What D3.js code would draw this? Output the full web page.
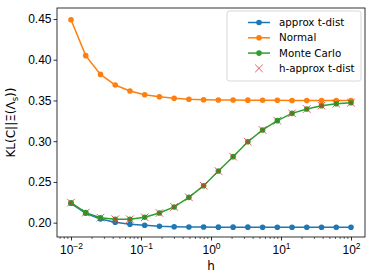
<!DOCTYPE html>
<html>
<head>
<meta charset="utf-8">
<script src="https://cdn.jsdelivr.net/npm/d3@7"></script>
<style>
  body { margin: 0; background: #fff; }
  svg { font-family: "DejaVu Sans", sans-serif; }
</style>
</head>
<body>
<div id="chart"></div>
<script>
// h values (20 log-spaced points from 1e-2 to 1e2)
const hValues = [0.01, 0.016238, 0.026367, 0.042813, 0.069519, 0.11288, 0.18330, 0.29764, 0.48329, 0.78476,
                 1.27427, 2.0691, 3.3598, 5.4556, 8.8587, 14.384, 23.357, 37.927, 61.585, 100];

const approxT = [0.2238, 0.2115, 0.2045, 0.2005, 0.1980, 0.1968, 0.1956, 0.1950, 0.1947, 0.1946,
                 0.1945, 0.1945, 0.1945, 0.1944, 0.1944, 0.1944, 0.1944, 0.1944, 0.1944, 0.1944];
const normal = [0.4490, 0.4050, 0.3820, 0.3690, 0.3616, 0.3570, 0.3546, 0.3527, 0.3514, 0.3509,
                0.3506, 0.3505, 0.3504, 0.3503, 0.3502, 0.3500, 0.3500, 0.3500, 0.3500, 0.3500];
const monteCarlo = [0.2245, 0.2123, 0.2061, 0.2042, 0.2042, 0.2066, 0.2119, 0.2193, 0.2311, 0.2454,
                    0.2634, 0.2810, 0.2994, 0.3138, 0.3252, 0.3342, 0.3395, 0.3436, 0.3460, 0.3472];
const hApproxT = [0.2245, 0.2123, 0.2061, 0.2042, 0.2042, 0.2066, 0.2119, 0.2193, 0.2311, 0.2454,
                  0.2634, 0.2810, 0.2994, 0.3138, 0.3252, 0.3342, 0.3395, 0.3436, 0.3460, 0.3472];

const yTicks = [0.20, 0.25, 0.30, 0.35, 0.40, 0.45];
const xTickExps = [-2, -1, 0, 1, 2];

const margin = { top: 8, right: 9, bottom: 43, left: 57 },
    width = 374 - margin.left - margin.right,
    height = 280 - margin.top - margin.bottom;

const svg = d3.select("#chart")
    .append("svg")
    .attr("width", 374)
    .attr("height", 280)
    .append("g")
    .attr("transform", `translate(${margin.left},${margin.top})`);

const x = d3.scaleLog()
    .domain([Math.pow(10, -2.2), Math.pow(10, 2.2)])
    .range([0, width]);
const y = d3.scaleLinear()
    .domain([0.1824, 0.4635])
    .range([height, 0]);

// minor ticks on log x axis
const minor = [];
for (let e = -3; e <= 2; e++) {
    for (let m = 2; m <= 9; m++) {
        const v = m * Math.pow(10, e);
        if (v > x.domain()[0] && v < x.domain()[1]) minor.push(v);
    }
}
svg.append("g")
    .attr("transform", `translate(0,${height})`)
    .selectAll("line")
    .data(minor)
    .join("line")
    .attr("x1", d => x(d)).attr("x2", d => x(d))
    .attr("y1", 0).attr("y2", 2)
    .attr("stroke", "#000").attr("stroke-width", 0.6);

// X axis
const xAxis = svg.append("g")
    .attr("transform", `translate(0,${height})`)
    .call(d3.axisBottom(x).tickValues(xTickExps.map(e => Math.pow(10, e))).tickSize(3.5).tickPadding(3).tickFormat(""));
xAxis.select(".domain").remove();
xAxis.selectAll(".tick line").attr("stroke-width", 0.8);
xAxis.selectAll(".tick").each(function (d, i) {
    const t = d3.select(this).append("text")
        .attr("fill", "#000")
        .attr("y", 17)
        .attr("text-anchor", "middle")
        .style("font-size", "12px");
    t.append("tspan").text("10");
    t.append("tspan").attr("dy", -5).style("font-size", "8.5px").text(xTickExps[i] < 0 ? "\u2212" + (-xTickExps[i]) : xTickExps[i]);
});

// Y axis
const yAxis = svg.append("g")
    .call(d3.axisLeft(y).tickValues(yTicks).tickSize(3.5).tickPadding(2).tickFormat(d3.format(".2f")));
yAxis.select(".domain").remove();
yAxis.selectAll(".tick line").attr("stroke-width", 0.8);
yAxis.selectAll(".tick text").style("font-size", "12px").attr("fill", "#000");

// frame
svg.append("rect")
    .attr("width", width).attr("height", height)
    .attr("fill", "none").attr("stroke", "#000").attr("stroke-width", 0.8);

// axis labels
svg.append("text")
    .attr("x", width / 2).attr("y", height + 33)
    .attr("text-anchor", "middle")
    .style("font-size", "12px")
    .text("h");
const yl = svg.append("text")
    .attr("transform", `translate(${-42},${height / 2}) rotate(-90)`)
    .attr("text-anchor", "middle")
    .style("font-size", "12px");
yl.append("tspan").text("KL(C||\u039E(\u039B");
yl.append("tspan").attr("dy", 3).style("font-size", "8.5px").text("s");
yl.append("tspan").attr("dy", -3).text("))");

// series
const series = [
    { name: "approx t-dist", values: approxT, color: "#1f77b4" },
    { name: "Normal", values: normal, color: "#ff7f0e" },
    { name: "Monte Carlo", values: monteCarlo, color: "#2ca02c" }
];
const line = d3.line().x((d, i) => x(hValues[i])).y(d => y(d));

series.forEach(s => {
    svg.append("path")
        .datum(s.values)
        .attr("fill", "none")
        .attr("stroke", s.color)
        .attr("stroke-width", 1.5)
        .attr("d", line);
    svg.append("g")
        .selectAll("circle")
        .data(s.values)
        .join("circle")
        .attr("cx", (d, i) => x(hValues[i]))
        .attr("cy", d => y(d))
        .attr("r", 2.8)
        .attr("fill", s.color);
});

// h-approx t-dist crosses
const cs = 3.8;
svg.append("g")
    .selectAll("path")
    .data(hApproxT)
    .join("path")
    .attr("d", (d, i) => {
        const cx = x(hValues[i]), cy = y(d);
        return `M${cx - cs},${cy - cs}L${cx + cs},${cy + cs}M${cx - cs},${cy + cs}L${cx + cs},${cy - cs}`;
    })
    .attr("stroke", "#d62728")
    .attr("stroke-opacity", 0.75)
    .attr("stroke-width", 1);

// legend
const lg = svg.append("g").attr("transform", `translate(${227 - margin.left},${11 - margin.top})`);
lg.append("rect")
    .attr("width", 134).attr("height", 70).attr("rx", 2.5)
    .attr("fill", "#fff").attr("fill-opacity", 0.8)
    .attr("stroke", "#ccc").attr("stroke-width", 0.8);
const items = series.map(s => ({ name: s.name, color: s.color, type: "line" }))
    .concat([{ name: "h-approx t-dist", color: "#d62728", type: "x" }]);
items.forEach((it, i) => {
    const gy = 11.5 + i * 15.3;
    const g = lg.append("g").attr("transform", `translate(0,${gy})`);
    if (it.type === "line") {
        g.append("line").attr("x1", 21).attr("x2", 43).attr("y1", 0).attr("y2", 0)
            .attr("stroke", it.color).attr("stroke-width", 1.5);
        g.append("circle").attr("cx", 32).attr("cy", 0).attr("r", 2.8).attr("fill", it.color);
    } else {
        g.append("path").attr("d", `M${32 - cs},${-cs}L${32 + cs},${cs}M${32 - cs},${cs}L${32 + cs},${-cs}`)
            .attr("stroke", it.color).attr("stroke-opacity", 0.75).attr("stroke-width", 1);
    }
    g.append("text").attr("x", 52).attr("y", 0).attr("dy", "0.35em")
        .style("font-size", "10.3px").text(it.name);
});
</script>
</body>
</html>
